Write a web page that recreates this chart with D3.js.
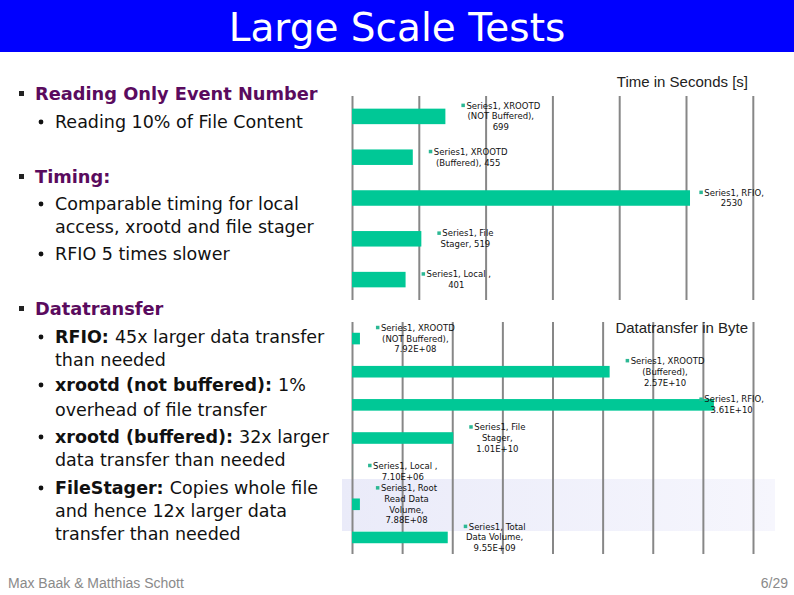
<!DOCTYPE html>
<html>
<head>
<meta charset="utf-8">
<script src="https://cdn.jsdelivr.net/npm/d3@7"></script>
<style>
body { margin: 0; background: #fff; }
svg { display: block; }
</style>
</head>
<body>
<div id="slide"></div>
<script>

// data
var timeCats = ["XROOTD (NOT Buffered)", "XROOTD (Buffered)", "RFIO", "File Stager", "Local "];
var timeSecs = [699, 455, 2530, 519, 401];
var timeTicks = [0, 500, 1000, 1500, 2000, 2500, 3000];
var timeLabelRows = [[2, 2, 1], [2, 2], [2, 1], [2, 2], [3, 1]];

var byteCats = ["XROOTD (NOT Buffered)", "XROOTD (Buffered)", "RFIO", "File Stager", "Local ", "Root Read Data Volume", "Total Data Volume"];
var byteVals = [7.92e8, 2.57e10, 3.61e10, 1.01e10, 7.10e6, 7.88e8, 9.55e9];
var byteTicks = [0, 5e9, 1e10, 1.5e10, 2e10, 2.5e10, 3e10, 3.5e10, 4e10];
var byteLabelRows = [[2, 2, 1], [2, 1, 1], [2, 1], [2, 1, 1], [3, 1], [2, 2, 1, 1], [2, 2, 1]];

var width = 794;
var height = 595;
var barColor = "#00c896";
var keyColor = "#2cb894";
var gridColor = "#878787";

var svg = d3.select("#slide")
	.append("svg")
	.attr("width", width)
	.attr("height", height);

// title banner
svg.append("rect")
	.attr("x", 0).attr("y", 0)
	.attr("width", width).attr("height", 52)
	.attr("fill", "#0000ff");
svg.append("text")
	.attr("x", 397).attr("y", 41)
	.attr("text-anchor", "middle")
	.attr("font-family", "DejaVu Sans")
	.attr("font-size", "39px")
	.attr("fill", "white")
	.text("Large Scale Tests");

// faint band behind the lower chart
var defs = svg.append("defs");
var grad = defs.append("linearGradient").attr("id", "band");
grad.append("stop").attr("offset", "0%").attr("stop-color", "#eaebf9");
grad.append("stop").attr("offset", "100%").attr("stop-color", "#f6f6fd");
svg.append("rect")
	.attr("x", 342).attr("y", 479)
	.attr("width", 433).attr("height", 52)
	.attr("fill", "url(#band)");

function sci(v) {
	var s = v.toExponential(2).toUpperCase();
	return s.replace(/E([+-])(\d)$/, function(m, sign, d) { return "E" + sign + "0" + d; });
}

function barChart(cats, vals, ticks, rows, fmt, xRange, yRange, pad) {

	var x = d3.scaleLinear()
		.domain([0, ticks[ticks.length - 1]])
		.range(xRange);

	var y = d3.scaleBand()
		.domain(cats)
		.range(yRange)
		.paddingInner(pad)
		.paddingOuter(pad / 2);

	var g = svg.append("g");

	// vertical gridlines
	var grid = g.append("g")
		.attr("transform", "translate(0," + yRange[0] + ")")
		.call(d3.axisTop(x)
			.tickValues(ticks)
			.tickSize(-(yRange[1] - yRange[0]))
			.tickFormat(""));
	grid.select(".domain").remove();
	grid.selectAll("line")
		.attr("stroke", gridColor)
		.attr("stroke-width", 2);

	g.selectAll("rect.bar")
		.data(vals)
		.enter()
		.append("rect")
		.attr("class", "bar")
		.attr("x", x(0))
		.attr("y", function(d, i) { return y(cats[i]); })
		.attr("width", function(d) { return x(d) - x(0); })
		.attr("height", y.bandwidth())
		.attr("fill", barColor);

	// data labels: "Series1, <cat>, <value>" with legend key
	var lh = 10.8;
	vals.forEach(function(v, i) {
		var words = ("Series1, " + cats[i] + ", " + fmt(v)).split(" ");
		var lines = [];
		var k = 0;
		rows[i].forEach(function(n) {
			lines.push(words.slice(k, k + n).join(" "));
			k += n;
		});

		var lab = g.append("g");
		var texts = lab.selectAll("text")
			.data(lines)
			.enter()
			.append("text")
			.attr("font-family", "DejaVu Sans")
			.attr("font-size", "8.5px")
			.attr("fill", "#111")
			.attr("text-anchor", "middle")
			.text(function(d) { return d; });

		var widths = [];
		texts.each(function() { widths.push(this.getComputedTextLength()); });
		widths[0] += 5;
		var blockW = d3.max(widths);
		var left = x(v) + 16;
		var cx = Math.min(left + blockW / 2, 764 - blockW / 2);
		var cy = y(cats[i]) + y.bandwidth() / 2;
		var top = cy - (lines.length - 1) * lh / 2 + 3;

		texts
			.attr("x", function(d, j) { return j == 0 ? cx + 2.5 : cx; })
			.attr("y", function(d, j) { return top + j * lh; });

		lab.append("rect")
			.attr("x", cx - widths[0] / 2)
			.attr("y", top - 5)
			.attr("width", 3.5)
			.attr("height", 3.5)
			.attr("fill", keyColor);
	});
}

barChart(timeCats, timeSecs, timeTicks, timeLabelRows, d3.format("d"), [352, 752.8], [96, 300], 0.62);
barChart(byteCats, byteVals, byteTicks, byteLabelRows, sci, [352, 753], [322, 554], 0.65);

// chart captions
svg.append("text")
	.attr("x", 748).attr("y", 87)
	.attr("text-anchor", "end")
	.attr("font-family", "Liberation Sans")
	.attr("font-size", "15px")
	.attr("fill", "#222")
	.text("Time in Seconds [s]");
svg.append("text")
	.attr("x", 748).attr("y", 333)
	.attr("text-anchor", "end")
	.attr("font-family", "Liberation Sans")
	.attr("font-size", "15px")
	.attr("fill", "#222")
	.text("Datatransfer in Byte");

// bullet text on the left
var purple = "#5a0b5e";
var heads = [
	{ y: 100, t: "Reading Only Event Number" },
	{ y: 183, t: "Timing:" },
	{ y: 315, t: "Datatransfer" }
];
var items = [
	{ y: 128, dot: true, parts: [["Reading 10% of File Content", false]] },
	{ y: 210, dot: true, parts: [["Comparable timing for local", false]] },
	{ y: 233, dot: false, parts: [["access, xrootd and file stager", false]] },
	{ y: 260, dot: true, parts: [["RFIO 5 times slower", false]] },
	{ y: 343, dot: true, parts: [["RFIO: ", true], ["45x larger data transfer", false]] },
	{ y: 366, dot: false, parts: [["than needed", false]] },
	{ y: 391, dot: true, parts: [["xrootd (not buffered): ", true], ["1%", false]] },
	{ y: 416, dot: false, parts: [["overhead of file transfer", false]] },
	{ y: 443, dot: true, parts: [["xrootd (buffered): ", true], ["32x larger", false]] },
	{ y: 466, dot: false, parts: [["data transfer than needed", false]] },
	{ y: 494, dot: true, parts: [["FileStager: ", true], ["Copies whole file", false]] },
	{ y: 517, dot: false, parts: [["and hence 12x larger data", false]] },
	{ y: 540, dot: false, parts: [["transfer than needed", false]] }
];

svg.selectAll("rect.sq")
	.data(heads)
	.enter()
	.append("rect")
	.attr("class", "sq")
	.attr("x", 19).attr("y", function(d) { return d.y - 9; })
	.attr("width", 5).attr("height", 5)
	.attr("fill", "#222");

svg.selectAll("text.head")
	.data(heads)
	.enter()
	.append("text")
	.attr("class", "head")
	.attr("x", 35).attr("y", function(d) { return d.y; })
	.attr("font-family", "DejaVu Sans")
	.attr("font-weight", "bold")
	.attr("font-size", "17.8px")
	.attr("fill", purple)
	.text(function(d) { return d.t; });

svg.selectAll("circle.dot")
	.data(items.filter(function(d) { return d.dot; }))
	.enter()
	.append("circle")
	.attr("class", "dot")
	.attr("cx", 41).attr("cy", function(d) { return d.y - 6; })
	.attr("r", 2.4)
	.attr("fill", "#111");

var body = svg.selectAll("text.item")
	.data(items)
	.enter()
	.append("text")
	.attr("class", "item")
	.attr("x", 55).attr("y", function(d) { return d.y; })
	.attr("font-family", "DejaVu Sans")
	.attr("font-size", "17.5px")
	.attr("fill", "#111");
body.selectAll("tspan")
	.data(function(d) { return d.parts; })
	.enter()
	.append("tspan")
	.attr("font-weight", function(p) { return p[1] ? "bold" : "normal"; })
	.text(function(p) { return p[0]; });

// footer
svg.append("text")
	.attr("x", 8).attr("y", 588)
	.attr("font-family", "Liberation Sans")
	.attr("font-size", "14px")
	.attr("fill", "#8a8a8a")
	.text("Max Baak & Matthias Schott");
svg.append("text")
	.attr("x", 788).attr("y", 588)
	.attr("text-anchor", "end")
	.attr("font-family", "Liberation Sans")
	.attr("font-size", "14px")
	.attr("fill", "#8a8a8a")
	.text("6/29");

</script>
</body>
</html>
